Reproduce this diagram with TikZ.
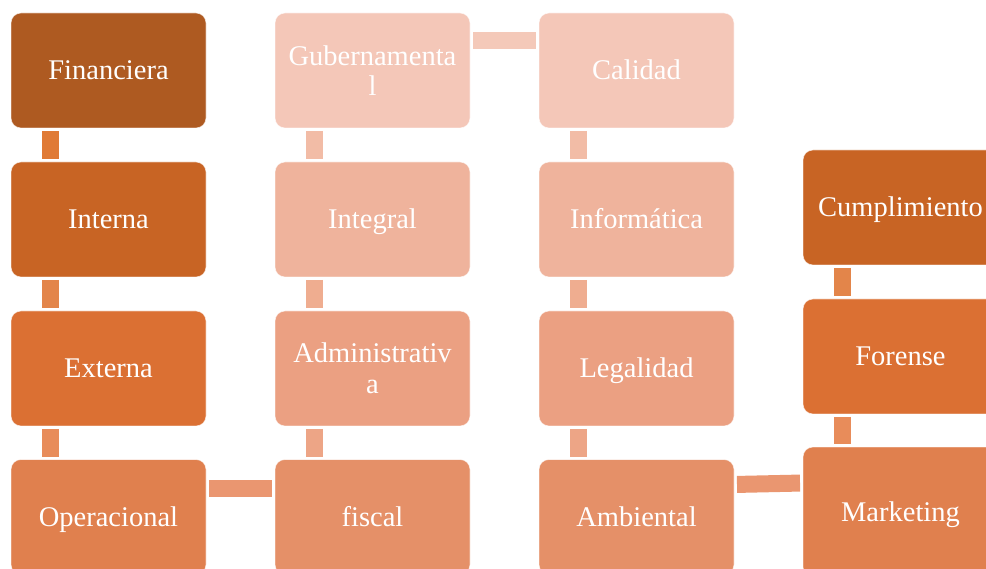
\documentclass[tikz,border=0pt]{standalone}
\usepackage{fontspec}
\setmainfont{Liberation Serif}
\definecolor{cFin}{HTML}{AE5A21}
\definecolor{cInt}{HTML}{C86424}
\definecolor{cExt}{HTML}{DB7033}
\definecolor{cOpe}{HTML}{E0804E}
\definecolor{cGub}{HTML}{F4C7B8}
\definecolor{cIgr}{HTML}{EFB39C}
\definecolor{cAdm}{HTML}{EBA082}
\definecolor{cFis}{HTML}{E59068}
\definecolor{kA}{HTML}{E07A35}
\definecolor{kB}{HTML}{E3854A}
\definecolor{kC}{HTML}{E88C5A}
\definecolor{kH}{HTML}{EA9670}
\definecolor{kD}{HTML}{F2BCA6}
\definecolor{kE}{HTML}{EFAD90}
\definecolor{kF}{HTML}{EDA586}
\definecolor{kG}{HTML}{F4C9B9}
\begin{document}
\begin{tikzpicture}[x=1pt,y=-1pt,
  box/.style={rectangle, rounded corners=10pt, minimum width=195pt, minimum height=115pt,
    inner sep=0pt, outer sep=0pt, draw=white, draw opacity=0.6, line width=0.7pt, text=white,
    align=center, font=\fontsize{28.5}{30.5}\selectfont},
  one/.style={text height=21pt, text depth=2pt},
  conn/.style={line width=17pt, shorten <=3pt, shorten >=3pt}]
\useasboundingbox (0,0) rectangle (986,569);
\clip (0,0) rectangle (986,569);
% column 1
\node[box, one, fill=cFin] (fin) at (108.5,70.5) {Financiera};
\node[box, one, fill=cInt] (int) at (108.5,219.5) {Interna};
\node[box, one, fill=cExt] (ext) at (108.5,368.5) {Externa};
\node[box, one, fill=cOpe] (ope) at (108.5,517) {Operacional};
% column 2
\node[box, fill=cGub] (gub) at (372.5,70.5) {Gubernamenta\\l};
\node[box, one, fill=cIgr] (igr) at (372.5,219.5) {Integral};
\node[box, fill=cAdm] (adm) at (372.5,368.5) {Administrativ\\a};
\node[box, one, fill=cFis] (fis) at (372.5,517) {fiscal};
% column 3
\node[box, one, fill=cGub] (cal) at (636.5,70.5) {Calidad};
\node[box, one, fill=cIgr] (inf) at (636.5,219.5) {Informática};
\node[box, one, fill=cAdm] (leg) at (636.5,368.5) {Legalidad};
\node[box, one, fill=cFis] (amb) at (636.5,517) {Ambiental};
% column 4
\node[box, one, fill=cInt] (cum) at (900.5,207.5) {Cumplimiento};
\node[box, one, fill=cExt] (for) at (900.5,356.5) {Forense};
\node[box, one, fill=cOpe, minimum height=130pt] (mar) at (900.5,512) {Marketing};
% vertical connectors
\draw[conn, draw=kA] ([xshift=39pt]fin.south west) -- ([xshift=39pt]int.north west);
\draw[conn, draw=kB] ([xshift=39pt]int.south west) -- ([xshift=39pt]ext.north west);
\draw[conn, draw=kC] ([xshift=39pt]ext.south west) -- ([xshift=39pt]ope.north west);
\draw[conn, draw=kD] ([xshift=39pt]gub.south west) -- ([xshift=39pt]igr.north west);
\draw[conn, draw=kE] ([xshift=39pt]igr.south west) -- ([xshift=39pt]adm.north west);
\draw[conn, draw=kF] ([xshift=39pt]adm.south west) -- ([xshift=39pt]fis.north west);
\draw[conn, draw=kD] ([xshift=39pt]cal.south west) -- ([xshift=39pt]inf.north west);
\draw[conn, draw=kE] ([xshift=39pt]inf.south west) -- ([xshift=39pt]leg.north west);
\draw[conn, draw=kF] ([xshift=39pt]leg.south west) -- ([xshift=39pt]amb.north west);
\draw[conn, draw=kB] ([xshift=39pt]cum.south west) -- ([xshift=39pt]for.north west);
\draw[conn, draw=kC] ([xshift=39pt]for.south west) -- ([xshift=39pt]mar.north west);
% horizontal connectors
\draw[conn, draw=kG] ([yshift=-27.5pt]gub.north east) -- ([yshift=-27.5pt]cal.north west);
\draw[conn, draw=kH] ([yshift=-28.5pt]ope.north east) -- ([yshift=-28.5pt]fis.north west);
\draw[conn, draw=kH] ([yshift=-25pt]amb.north east) -- ([yshift=-36pt]mar.north west);
\end{tikzpicture}
\end{document}
